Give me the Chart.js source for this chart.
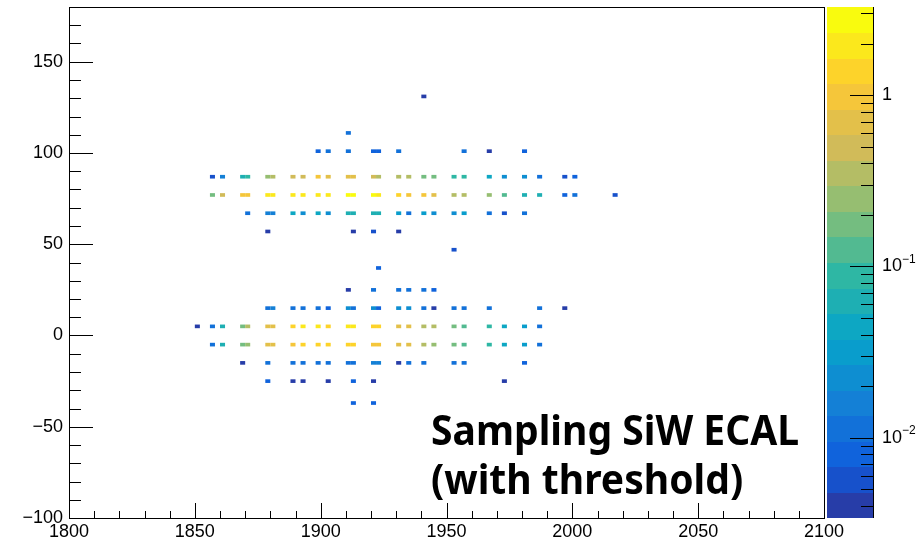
<!DOCTYPE html>
<html>
<head>
<meta charset="utf-8">
<script src="https://cdn.jsdelivr.net/npm/chart.js@4.4.0/dist/chart.umd.min.js"></script>
<style>
  html, body { margin: 0; padding: 0; background: #fff; }
</style>
</head>
<body>
<canvas id="c" width="917" height="542"></canvas>
<script>
// histogram bins are 2 x 2, values below are bin centres
const binW = 2;
const binH = 2;

// one entry per filled row of the histogram
const rowY = [131, 111, 101, 87, 77, 67, 57, 47, 37, 25, 15, 5, -5, -15, -25, -37];
const rowX = [
  [1941],
  [1911],
  [1899, 1903, 1911, 1921, 1923, 1931, 1957, 1967, 1981],
  [1857, 1861, 1869, 1871, 1879, 1881, 1889, 1893, 1899, 1903, 1911, 1913, 1921, 1923, 1931, 1935, 1941, 1945, 1953, 1957, 1967, 1973, 1981, 1987, 1997, 2001],
  [1857, 1861, 1869, 1871, 1879, 1881, 1889, 1893, 1899, 1903, 1911, 1913, 1921, 1923, 1931, 1935, 1941, 1945, 1953, 1957, 1967, 1973, 1981, 1987, 1997, 2001, 2017],
  [1871, 1879, 1881, 1889, 1893, 1899, 1903, 1911, 1913, 1921, 1923, 1931, 1935, 1941, 1945, 1953, 1957, 1967, 1973, 1981],
  [1879, 1913, 1921, 1931],
  [1953],
  [1923],
  [1911, 1921, 1931, 1935, 1941, 1945],
  [1879, 1881, 1889, 1893, 1899, 1903, 1911, 1913, 1921, 1923, 1931, 1935, 1941, 1945, 1953, 1957, 1967, 1987, 1997],
  [1851, 1857, 1861, 1869, 1871, 1879, 1881, 1889, 1893, 1899, 1903, 1911, 1913, 1921, 1923, 1931, 1935, 1941, 1945, 1953, 1957, 1967, 1973, 1981, 1987],
  [1857, 1861, 1869, 1871, 1879, 1881, 1889, 1893, 1899, 1903, 1911, 1913, 1921, 1923, 1931, 1935, 1941, 1945, 1953, 1957, 1967, 1973, 1981, 1987],
  [1869, 1879, 1889, 1893, 1899, 1903, 1911, 1913, 1921, 1923, 1931, 1935, 1941, 1953, 1957, 1981],
  [1879, 1889, 1893, 1903, 1913, 1921, 1973],
  [1913, 1921]
];
const rowZ = [
  [0.004],
  [0.011],
  [0.008, 0.011, 0.011, 0.008, 0.008, 0.011, 0.011, 0.004, 0.008],
  [0.0057, 0.016, 0.063, 0.089, 0.25, 0.35, 0.5, 0.5, 1.0, 0.7, 0.7, 0.7, 0.5, 0.35, 0.35, 0.35, 0.18, 0.18, 0.089, 0.089, 0.045, 0.022, 0.022, 0.011, 0.0057, 0.008],
  [0.18, 0.5, 1.0, 1.0, 2.0, 2.0, 2.0, 2.0, 2.0, 2.0, 2.8, 2.8, 2.8, 2.0, 1.4, 1.0, 1.0, 0.7, 0.35, 0.35, 0.25, 0.13, 0.063, 0.063, 0.008, 0.011, 0.0057],
  [0.011, 0.016, 0.016, 0.045, 0.022, 0.045, 0.022, 0.063, 0.063, 0.063, 0.063, 0.032, 0.011, 0.032, 0.022, 0.022, 0.032, 0.011, 0.0057, 0.011],
  [0.004, 0.004, 0.0057, 0.004],
  [0.0057],
  [0.008],
  [0.004, 0.011, 0.011, 0.011, 0.011, 0.008],
  [0.011, 0.016, 0.011, 0.011, 0.011, 0.008, 0.022, 0.011, 0.022, 0.008, 0.022, 0.022, 0.011, 0.004, 0.011, 0.011, 0.011, 0.011, 0.004],
  [0.004, 0.011, 0.063, 0.18, 0.35, 0.7, 0.7, 1.4, 2.0, 2.0, 1.4, 2.0, 2.0, 1.4, 1.4, 0.7, 0.7, 0.35, 0.35, 0.18, 0.13, 0.089, 0.045, 0.032, 0.011],
  [0.011, 0.063, 0.18, 0.25, 0.7, 0.7, 1.0, 1.4, 1.4, 1.4, 1.4, 1.4, 1.0, 1.0, 0.7, 0.7, 0.35, 0.25, 0.18, 0.13, 0.089, 0.045, 0.032, 0.011],
  [0.004, 0.011, 0.011, 0.011, 0.011, 0.011, 0.011, 0.011, 0.016, 0.016, 0.004, 0.011, 0.011, 0.011, 0.011, 0.008],
  [0.008, 0.004, 0.004, 0.004, 0.008, 0.004, 0.004],
  [0.008, 0.008]
];

// axis ranges and labels
const xRange = [1800, 2100];
const yRange = [-100, 180];
const zRange = [0.0034, 3.27];
const xLabels = [1800, 1850, 1900, 1950, 2000, 2050, 2100];
const yLabels = [-100, -50, 0, 50, 100, 150];
const zLabels = [0.01, 0.1, 1];
const zMinor = [0.004, 0.005, 0.006, 0.007, 0.008, 0.009, 0.02, 0.03, 0.04, 0.05, 0.06, 0.07, 0.08, 0.09,
                0.2, 0.3, 0.4, 0.5, 0.6, 0.7, 0.8, 0.9, 2, 3];
const nLevels = 20;
const note = ['Sampling SiW ECAL', '(with threshold)'];

// kBird palette
const birdStops = [0.0, 0.125, 0.25, 0.375, 0.5, 0.625, 0.75, 0.875, 1.0];
const birdR = [0.2082, 0.0592, 0.0780, 0.0232, 0.1802, 0.5301, 0.8186, 0.9956, 0.9764];
const birdG = [0.1664, 0.3599, 0.5041, 0.6419, 0.7178, 0.7492, 0.7328, 0.7862, 0.9832];
const birdB = [0.5293, 0.8684, 0.8385, 0.7914, 0.6425, 0.4662, 0.3499, 0.1968, 0.0539];

function bird(f) {
  let i = 0;
  while (i < birdStops.length - 2 && f > birdStops[i + 1]) i++;
  const t = (f - birdStops[i]) / (birdStops[i + 1] - birdStops[i]);
  const c = a => Math.round(255 * (a[i] + (a[i + 1] - a[i]) * t));
  return 'rgb(' + c(birdR) + ',' + c(birdG) + ',' + c(birdB) + ')';
}
function levelColour(b) {
  const idx = Math.floor((b + 0.99) * 255 / nLevels);
  return bird(Math.min(1, idx / 254));
}
const lzMin = Math.log10(zRange[0]);
const lzMax = Math.log10(zRange[1]);
function levelOf(v) {
  const t = (Math.log10(v) - lzMin) / (lzMax - lzMin);
  return Math.max(0, Math.min(nLevels - 1, Math.floor(t * nLevels)));
}

const cells = [];
rowY.forEach((yv, r) => {
  rowX[r].forEach((xv, k) => cells.push({ x: xv, y: yv, v: rowZ[r][k] }));
});

const minus = v => (v < 0 ? '\u2212' + Math.abs(v) : String(v));
const axisFont = { family: '"Liberation Sans", Arial, sans-serif', size: 18 };

function noPad(s) {
  s.paddingLeft = 0; s.paddingRight = 0; s.paddingTop = 0; s.paddingBottom = 0;
}

const histPlugin = {
  id: 'hist',
  beforeDatasetsDraw(chart) {
    const { ctx } = chart;
    const xs = chart.scales.x, ys = chart.scales.y;
    chart.data.datasets[0].data.forEach(c => {
      const x0 = xs.getPixelForValue(c.x - binW / 2), x1 = xs.getPixelForValue(c.x + binW / 2);
      const y0 = ys.getPixelForValue(c.y + binH / 2), y1 = ys.getPixelForValue(c.y - binH / 2);
      ctx.fillStyle = levelColour(levelOf(c.v));
      ctx.fillRect(x0, y0, x1 - x0, y1 - y0);
    });
  },
  afterDraw(chart) {
    const { ctx, chartArea: a } = chart;
    const xs = chart.scales.x, ys = chart.scales.y, zs = chart.scales.z;
    ctx.save();
    ctx.strokeStyle = '#000';
    ctx.lineWidth = 1;

    // frame
    ctx.strokeRect(Math.round(a.left) + 0.5, Math.round(a.top) + 0.5,
                   Math.round(a.right - a.left), Math.round(a.bottom - a.top));

    // ticks pointing into the frame
    ctx.beginPath();
    xs.ticks.forEach(t => {
      const px = Math.round(xs.getPixelForValue(t.value)) + 0.5;
      const len = t.value % 50 === 0 ? 15 : 7;
      ctx.moveTo(px, a.bottom);
      ctx.lineTo(px, a.bottom - len);
    });
    ys.ticks.forEach(t => {
      if (t.value >= yRange[1]) return;
      const py = Math.round(ys.getPixelForValue(t.value)) + 0.5;
      const len = t.value % 50 === 0 ? 24 : 12;
      ctx.moveTo(a.left, py);
      ctx.lineTo(a.left + len, py);
    });
    ctx.stroke();

    // colour bar
    const bl = a.right + 3, br = a.right + 49;
    for (let b = 0; b < nLevels; b++) {
      const lo = Math.pow(10, lzMin + (lzMax - lzMin) * b / nLevels);
      const hi = Math.pow(10, lzMin + (lzMax - lzMin) * (b + 1) / nLevels);
      const y0 = zs.getPixelForValue(hi), y1 = zs.getPixelForValue(lo);
      ctx.fillStyle = levelColour(b);
      ctx.fillRect(bl, Math.floor(y0), br - bl, Math.ceil(y1) - Math.floor(y0));
    }
    ctx.beginPath();
    ctx.moveTo(br + 0.5, a.top);
    ctx.lineTo(br + 0.5, a.bottom);
    zLabels.concat(zMinor).forEach(v => {
      const py = Math.round(zs.getPixelForValue(v)) + 0.5;
      const len = zLabels.includes(v) ? 23 : 12;
      ctx.moveTo(br, py);
      ctx.lineTo(br - len, py);
    });
    ctx.stroke();

    // colour bar labels
    ctx.fillStyle = '#000';
    ctx.textBaseline = 'middle';
    ctx.textAlign = 'left';
    zLabels.forEach(v => {
      const py = zs.getPixelForValue(v);
      const e = Math.round(Math.log10(v));
      ctx.font = '18px "Liberation Sans", Arial, sans-serif';
      if (e === 0) {
        ctx.fillText('1', br + 9, py);
      } else {
        ctx.fillText('10', br + 9, py);
        const w = ctx.measureText('10').width;
        ctx.font = '12px "Liberation Sans", Arial, sans-serif';
        ctx.fillText('\u2212' + Math.abs(e), br + 9 + w, py - 7);
      }
    });

    // note, squeezed a little to the width of the original typeface
    ctx.font = 'bold 42px "Noto Sans", "Open Sans", sans-serif';
    ctx.textBaseline = 'alphabetic';
    ctx.translate(431, 0);
    ctx.scale(0.93, 1);
    ctx.fillText(note[0], 0, 445);
    ctx.fillText(note[1], 0, 494);
    ctx.restore();
  }
};

new Chart(document.getElementById('c'), {
  type: 'scatter',
  data: { datasets: [{ data: cells, pointRadius: 0, pointHoverRadius: 0 }] },
  options: {
    responsive: false,
    animation: false,
    devicePixelRatio: 1,
    layout: { padding: { top: 7, left: 0, right: 0, bottom: 0 } },
    plugins: { legend: { display: false }, tooltip: { enabled: false } },
    events: [],
    scales: {
      x: {
        type: 'linear', position: 'bottom', min: xRange[0], max: xRange[1],
        grid: { display: false, drawTicks: false }, border: { display: false },
        ticks: {
          stepSize: 10, autoSkip: false, maxRotation: 0, minRotation: 0, padding: 3,
          color: '#000', font: axisFont,
          callback: v => (xLabels.includes(v) ? String(v) : '')
        },
        afterFit: s => { s.height = 24; noPad(s); }
      },
      y: {
        type: 'linear', position: 'left', min: yRange[0], max: yRange[1],
        grid: { display: false, drawTicks: false }, border: { display: false },
        ticks: {
          stepSize: 10, autoSkip: false, padding: 6, color: '#000', font: axisFont,
          callback: v => (yLabels.includes(v) ? minus(v) : '')
        },
        afterFit: s => { s.width = 69; noPad(s); }
      },
      z: {
        type: 'logarithmic', position: 'right', min: zRange[0], max: zRange[1],
        grid: { display: false, drawTicks: false }, border: { display: false },
        ticks: { display: false },
        afterFit: s => { s.width = 93; noPad(s); }
      }
    }
  },
  plugins: [histPlugin]
});
</script>
</body>
</html>
